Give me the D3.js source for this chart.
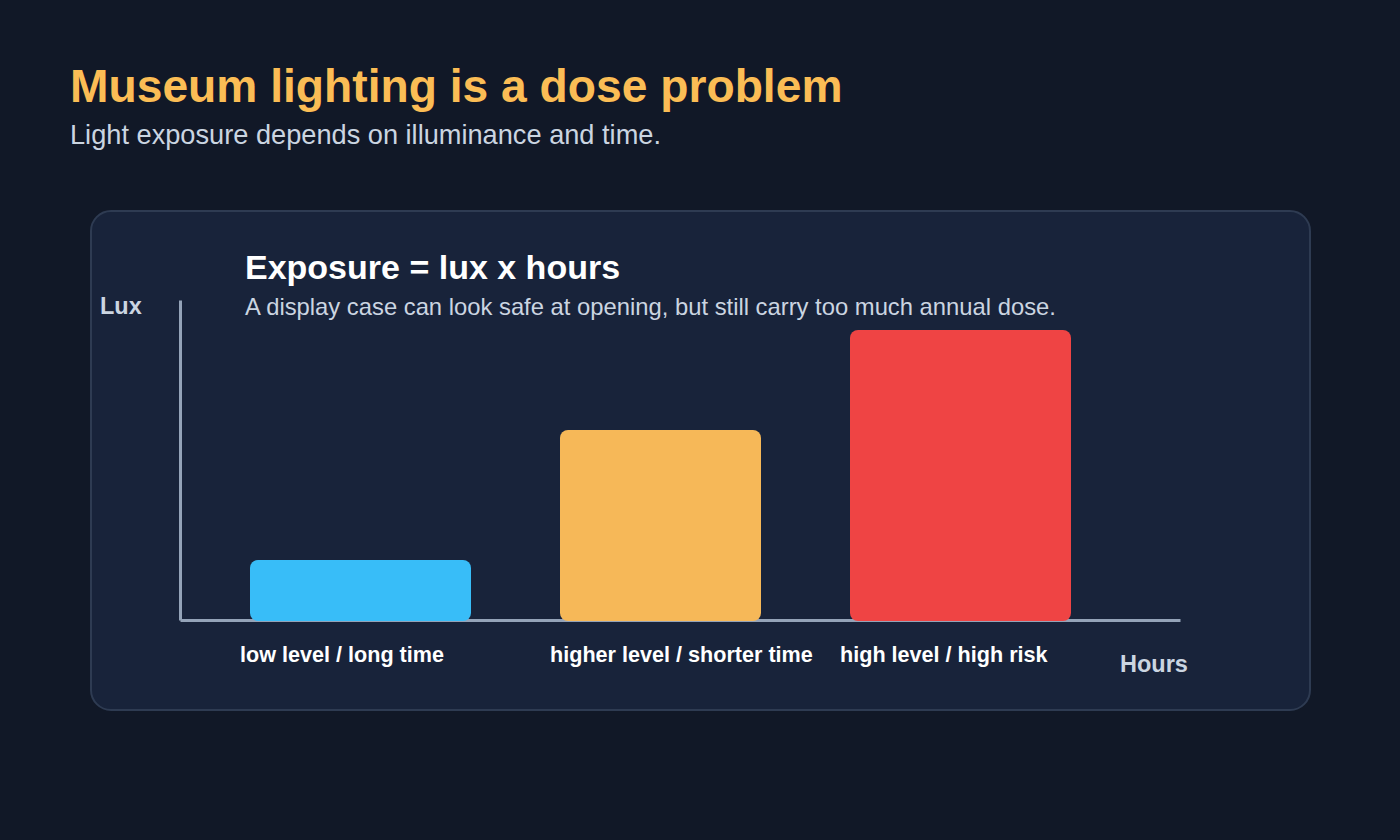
<!DOCTYPE html>
<html>
<head>
<meta charset="utf-8">
<script src="https://cdn.jsdelivr.net/npm/d3@7"></script>
<style>
  html, body { margin: 0; padding: 0; background: #111827; }
  svg { display: block; }
  text { font-family: Arial, "Liberation Sans", Helvetica, sans-serif; }
</style>
</head>
<body>
<svg id="chart" width="1400" height="840"></svg>
<script>
// ---- data ----
const categories = ["low level / long time", "higher level / shorter time", "high level / high risk"];
const exposureValues = [60, 190, 290];      // relative lux level (bar height)
const hoursStart = [70, 380, 670];          // relative hours axis start
const hoursSpan = [220, 200, 220];          // relative hours span (bar width)
const barColors = ["#38bdf8", "#f6b858", "#ef4444"];
const title = "Museum lighting is a dose problem";
const subtitle = "Light exposure depends on illuminance and time.";
const cardTitle = "Exposure = lux x hours";
const cardSubtitle = "A display case can look safe at opening, but still carry too much annual dose.";
const yAxisLabel = "Lux";
const xAxisLabel = "Hours";

const svg = d3.select("#chart");

svg.append("rect").attr("width", 1400).attr("height", 840).attr("fill", "#111827");

svg.append("text").attr("x", 70).attr("y", 102)
  .attr("font-size", 46.2).attr("font-weight", "bold").attr("fill", "#fbbd55").text(title);
svg.append("text").attr("x", 70).attr("y", 144)
  .attr("font-size", 27.2).attr("fill", "#cbd5e1").text(subtitle);

// card
svg.append("rect").attr("x", 91).attr("y", 211).attr("width", 1219).attr("height", 499)
  .attr("rx", 20).attr("fill", "#18233a").attr("stroke", "#2e3b52").attr("stroke-width", 2);

svg.append("text").attr("x", 245).attr("y", 279)
  .attr("font-size", 34).attr("font-weight", "bold").attr("fill", "#ffffff").text(cardTitle);
svg.append("text").attr("x", 245).attr("y", 315)
  .attr("font-size", 23.8).attr("fill", "#cbd5e1").text(cardSubtitle);

// scales
const x = d3.scaleLinear().domain([0, 1000]).range([180, 1180]);
const y = d3.scaleLinear().domain([0, 320]).range([620, 300]);

// axes
const axisColor = "#94a3b8";
const yAxis = svg.append("g").attr("transform", `translate(${x(0)},0)`)
  .call(d3.axisLeft(y).tickValues([]).tickSizeOuter(0));
yAxis.select(".domain").attr("stroke", axisColor).attr("stroke-width", 3);
const xAxis = svg.append("g").attr("transform", `translate(0,${y(0)})`)
  .call(d3.axisBottom(x).tickValues([]).tickSizeOuter(0));
xAxis.select(".domain").attr("stroke", axisColor).attr("stroke-width", 3);

// bars
svg.append("g").selectAll("rect").data(categories).join("rect")
  .attr("x", (d, i) => x(hoursStart[i]))
  .attr("y", (d, i) => y(exposureValues[i]))
  .attr("width", (d, i) => x(hoursStart[i] + hoursSpan[i]) - x(hoursStart[i]) + 1)
  .attr("height", (d, i) => y(0) - y(exposureValues[i]) + 1)
  .attr("rx", 8)
  .attr("fill", (d, i) => barColors[i]);

// bar labels
svg.append("g").selectAll("text").data(categories).join("text")
  .attr("x", (d, i) => x(hoursStart[i]) - 10)
  .attr("y", 662)
  .attr("font-size", 21.6).attr("font-weight", "bold").attr("fill", "#ffffff")
  .text(d => d);

// axis labels
svg.append("text").attr("x", 100).attr("y", 314)
  .attr("font-size", 23.5).attr("font-weight", "bold").attr("fill", "#cbd5e1").text(yAxisLabel);
svg.append("text").attr("x", 1120).attr("y", 672)
  .attr("font-size", 23.5).attr("font-weight", "bold").attr("fill", "#cbd5e1").text(xAxisLabel);
</script>
</body>
</html>
